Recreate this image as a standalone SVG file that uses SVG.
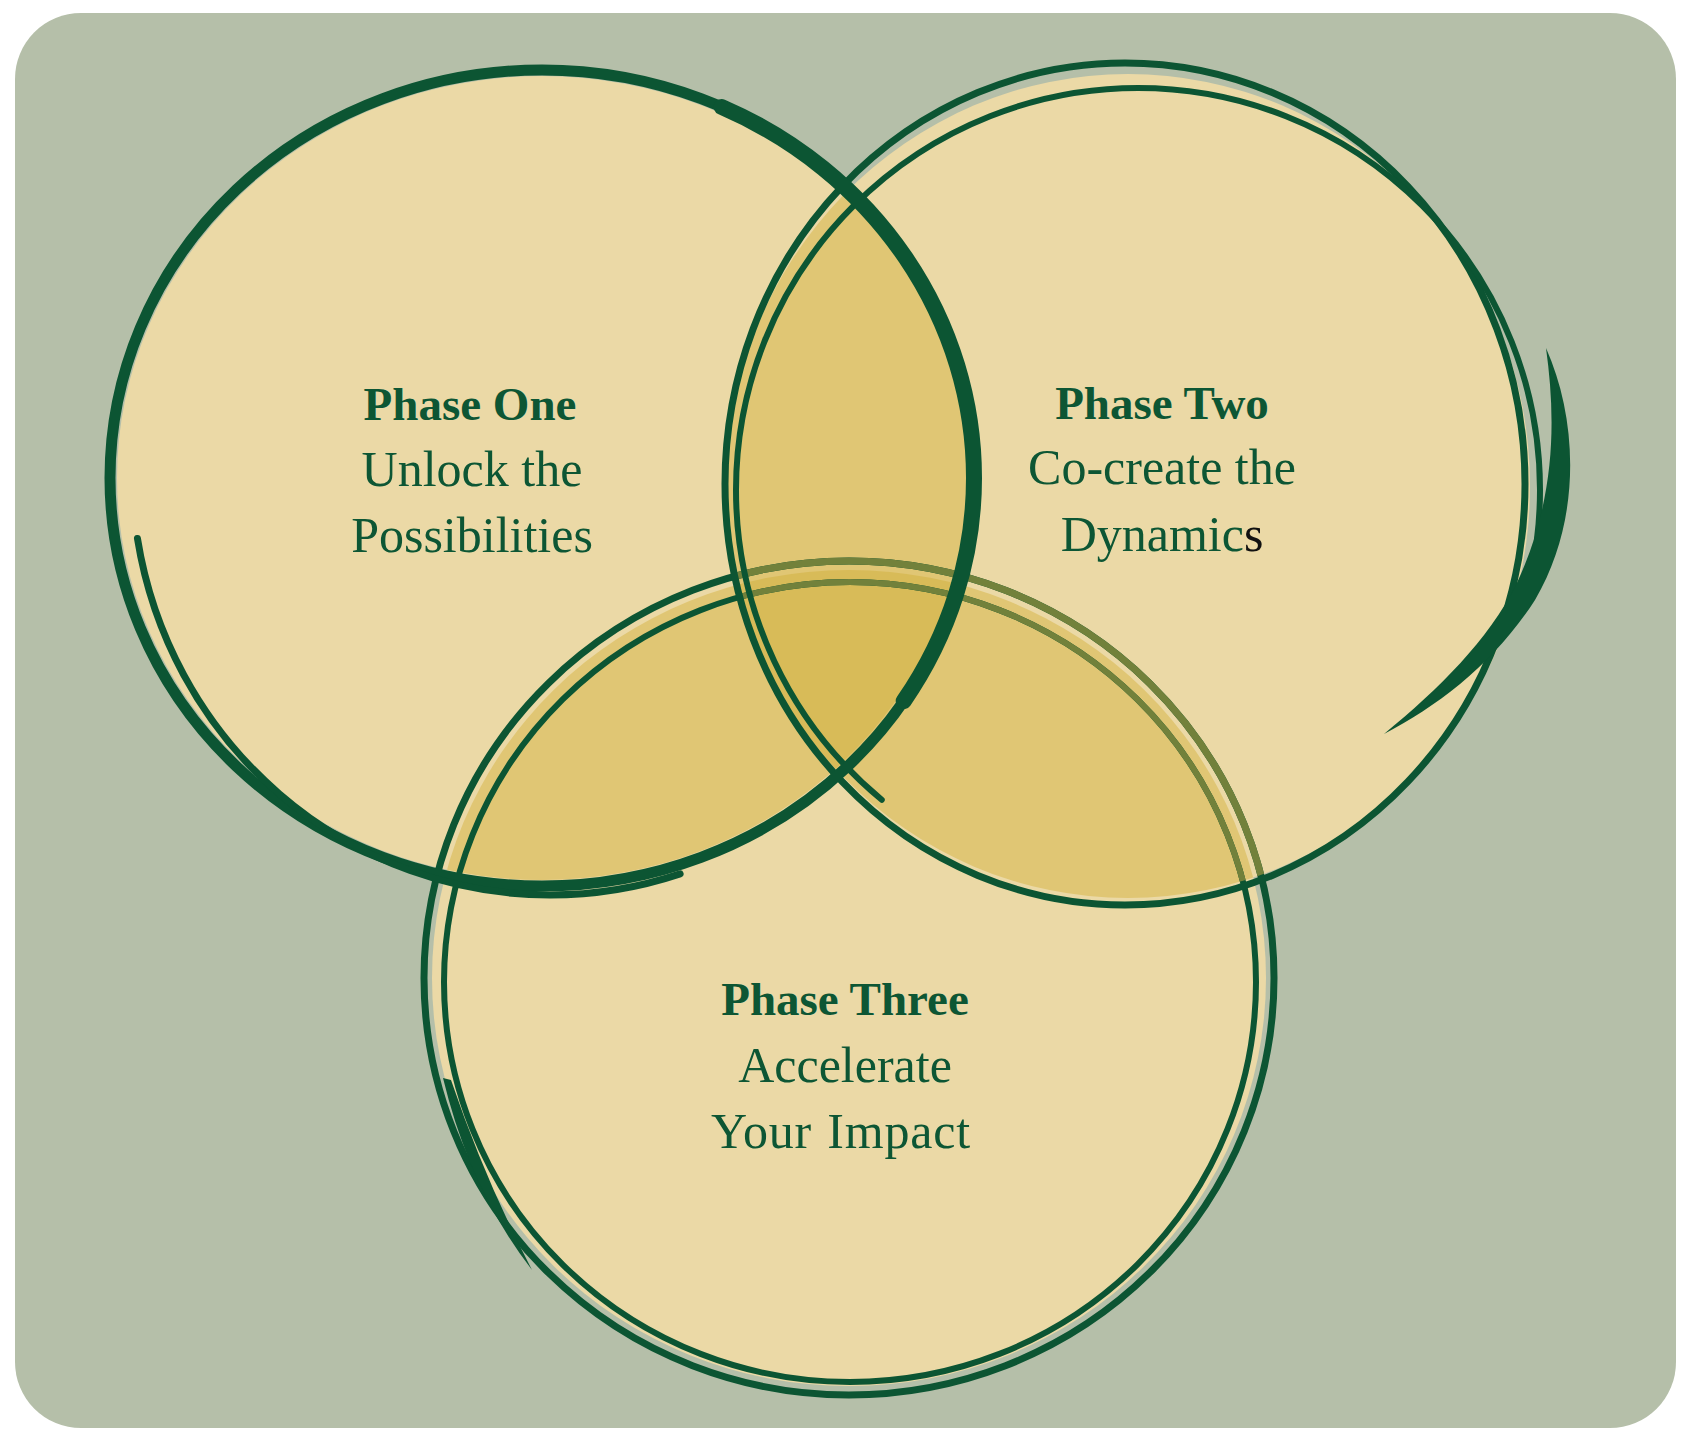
<svg xmlns="http://www.w3.org/2000/svg" xmlns:xlink="http://www.w3.org/1999/xlink" width="1693" height="1440" viewBox="0 0 1693 1440">
<style>
.t{font-family:"Liberation Serif","Times New Roman",serif;fill:#0d5634;text-anchor:middle}
.b{font-weight:bold;font-size:47px}
.r{font-size:50px}
.ln{fill:none;stroke-linecap:round}
</style>
<defs>
<clipPath id="k1"><ellipse cx="542" cy="478" rx="425" ry="402"/></clipPath>
<clipPath id="k2"><ellipse cx="1128" cy="486" rx="402" ry="412"/></clipPath>
<clipPath id="k3"><ellipse cx="849" cy="978" rx="417" ry="408"/></clipPath>
<g id="c3s" class="ln">
<ellipse cx="849" cy="978" rx="425" ry="417" stroke-width="7"/>
<ellipse cx="850" cy="982" rx="406" ry="400" stroke-width="6"/>
</g>
</defs>
<rect x="15" y="13" width="1661" height="1415" rx="66" fill="#b5bfa9"/>
<g id="fills">
<ellipse cx="542" cy="478" rx="425" ry="402" fill="#ebd9a6"/>
<ellipse cx="1128" cy="486" rx="402" ry="412" fill="#ebd9a6"/>
<ellipse cx="849" cy="978" rx="417" ry="408" fill="#ebd9a6"/>
<ellipse cx="542" cy="478" rx="425" ry="402" fill="#e0c674" clip-path="url(#k2)"/>
<ellipse cx="542" cy="478" rx="425" ry="402" fill="#e0c674" clip-path="url(#k3)"/>
<ellipse cx="1128" cy="486" rx="402" ry="412" fill="#e0c674" clip-path="url(#k3)"/>
<g clip-path="url(#k3)"><ellipse cx="542" cy="478" rx="425" ry="402" fill="#d8bb58" clip-path="url(#k2)"/></g>
</g>
<g id="connectors">
<g id="phase-three-outline">
<use xlink:href="#c3s" stroke="#0c5533"/>
<use xlink:href="#c3s" stroke="#72813b" clip-path="url(#k2)"/>
<path d="M443,1078 Q470,1190 532,1270 Q485,1180 451,1080 Z" fill="#0c5533"/>
</g>
<g id="phase-two-outline" class="ln" stroke="#0c5533">
<ellipse cx="1125" cy="484" rx="400" ry="421" stroke-width="7"/>
<ellipse cx="1138" cy="490" rx="402" ry="402" stroke-width="6" pathLength="100" stroke-dasharray="66 34" stroke-dashoffset="64"/>
<path d="M1546,348 C1578,420 1582,520 1535,600 C1495,662 1440,705 1384,734 C1440,688 1488,640 1516,585 C1556,500 1556,420 1546,348 Z" fill="#0c5533" stroke="none"/>
</g>
<g id="phase-one-outline" class="ln" stroke="#0c5533">
<ellipse cx="542" cy="478" rx="432" ry="408" stroke-width="11"/>
<ellipse cx="542" cy="478" rx="432" ry="408" stroke-width="16" pathLength="100" stroke-dasharray="27 73" stroke-dashoffset="18"/>
<ellipse cx="550" cy="470" rx="418" ry="425" stroke-width="7" pathLength="100" stroke-dasharray="27.4 72.6" stroke-dashoffset="80"/>
</g>
</g>
<g id="phase-one">
<text class="t b" x="470" y="420">Phase One</text>
<text class="t r" x="472" y="486">Unlock the</text>
<text class="t r" x="472" y="552">Possibilities</text>
</g>
<g id="phase-two">
<text class="t b" x="1162" y="419">Phase Two</text>
<text class="t r" x="1162" y="484">Co-create the</text>
<text class="t r" x="1162" y="551">Dynamic<tspan fill="#111111">s</tspan></text>
</g>
<g id="phase-three">
<text class="t b" x="845" y="1015">Phase Three</text>
<text class="t r" x="845" y="1082">Accelerate</text>
<text class="t r" x="841" y="1148" word-spacing="2" letter-spacing="0.8">Your Impact</text>
</g>
</svg>
